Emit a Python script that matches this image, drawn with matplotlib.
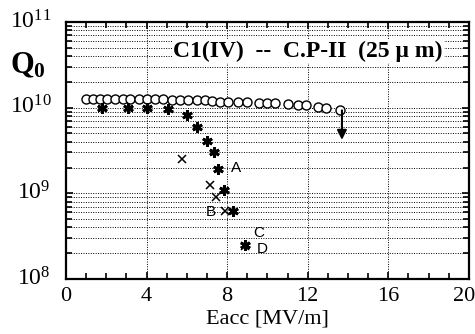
import matplotlib
matplotlib.use("Agg")
import matplotlib.pyplot as plt
import matplotlib.transforms as mtransforms
from matplotlib.ticker import LogLocator, FixedLocator, NullFormatter

plt.rcParams['font.family'] = ['Liberation Serif', 'DejaVu Serif']
plt.rcParams['mathtext.fontset'] = 'custom'
plt.rcParams['mathtext.rm'] = 'Liberation Serif'
plt.rcParams['mathtext.it'] = 'Liberation Serif:italic'
plt.rcParams['mathtext.bf'] = 'Liberation Serif:bold'

# open circles: best run
eacc_o = [1.0, 1.35, 1.7, 2.05, 2.45, 2.85, 3.2, 3.6, 4.0, 4.4, 4.8, 5.25, 5.65,
          6.05, 6.5, 6.9, 7.25, 7.65, 8.05, 8.55, 9.0, 9.6, 10.0, 10.4, 11.0,
          11.5, 11.9, 12.5, 12.9, 13.6]
q_o = [1.27e10, 1.27e10, 1.27e10, 1.26e10, 1.26e10, 1.26e10, 1.26e10, 1.26e10,
       1.25e10, 1.25e10, 1.25e10, 1.24e10, 1.24e10, 1.23e10, 1.23e10, 1.22e10,
       1.2e10, 1.18e10, 1.17e10, 1.16e10, 1.15e10, 1.14e10, 1.13e10, 1.12e10,
       1.1e10, 1.08e10, 1.06e10, 1.03e10, 1.0e10, 0.95e10]

# asterisks: degraded run
eacc_s = [1.8, 3.1, 4.0, 5.05, 6.0, 6.5, 7.0, 7.35, 7.55, 7.85, 8.3, 8.9]
q_s = [0.98e10, 1.0e10, 1.0e10, 0.97e10, 0.81e10, 0.59e10, 0.41e10, 0.30e10,
       0.19e10, 1.08e9, 6.2e8, 2.5e8]

# crosses
eacc_x = [5.75, 7.15, 7.45, 7.9, 8.9]
q_x = [2.5e9, 1.24e9, 9.0e8, 6.2e8, 2.4e8]

labels = ['A', 'B', 'C', 'D']
label_pos = [(8.2, 1.95e9), (6.95, 6.1e8), (9.3, 3.4e8), (9.45, 2.25e8)]

fig = plt.figure(figsize=(4.75, 3.34), dpi=100)
ax = fig.add_axes([0.139, 0.165, 0.848, 0.769])

ax.set_yscale('log')
ax.set_xlim(0, 20)
ax.set_ylim(1e8, 1e11)

ax.plot(eacc_o, q_o, 'o', mfc='white', mec='black', ms=6.5, mew=1.0, zorder=4)
ax.plot(eacc_s, q_s, ls='none', marker=(6, 2, 0), color='black', ms=7.5, mew=2.0, zorder=4)
ax.plot(eacc_x, q_x, 'x', color='black', ms=6, mew=1.1, zorder=4)

ax.annotate('', xy=(13.7, 0.42e10), xytext=(13.7, 0.93e10),
            arrowprops=dict(arrowstyle='-|>', color='black', lw=1.5,
                            mutation_scale=14, shrinkA=0, shrinkB=0), zorder=5)

for lab, (px, py) in zip(labels, label_pos):
    ax.text(px, py, lab, fontsize=11, family='Liberation Sans', va='center', ha='left')

ax.text(12.0, 4.6e10, 'C1(IV)  --  C.P-II  (25 μ m)', fontsize=17,
        fontweight='bold', ha='center', va='center',
        bbox=dict(facecolor='white', edgecolor='none', pad=1), zorder=6)

# ticks and dotted grid
ax.xaxis.set_major_locator(FixedLocator([0, 4, 8, 12, 16, 20]))
ax.xaxis.set_minor_locator(FixedLocator(range(0, 21)))
ax.yaxis.set_major_locator(LogLocator(base=10, numticks=10))
ax.yaxis.set_minor_locator(LogLocator(base=10, subs=range(2, 10), numticks=30))
ax.yaxis.set_minor_formatter(NullFormatter())
ax.set_yticklabels([])
ax.tick_params(which='both', direction='in', top=True, right=True, width=1.2)
ax.tick_params(which='major', length=5, labelsize=16, pad=6)
ax.tick_params(which='minor', length=4)
ax.grid(True, axis='x', which='major', ls=(0, (1, 1.5)), color='black', lw=0.7)
ax.grid(True, axis='y', which='both', ls=(0, (1, 1.5)), color='black', lw=0.7)
for sp in ax.spines.values():
    sp.set_linewidth(1.6)

# nudge the last x label so it stays inside the figure
last = ax.get_xticklabels()[-1]
last.set_transform(last.get_transform() +
                   mtransforms.ScaledTranslation(-5 / 100, 0, fig.dpi_scale_trans))

for e, x, y in zip([8, 9, 10, 11], [17, 17, 10, 10], [279, 193, 107, 22]):
    fig.text(x / 475, 1 - y / 334, '10$^{%d}$' % e, fontsize=17, ha='left', va='center')

fig.text(10 / 475, 1 - 66 / 334, '$\\mathbf{Q_0}$', fontsize=22, ha='left', va='center')
ax.set_xlabel('Eacc [MV/m]', fontsize=16, labelpad=2)

fig.savefig('out.png', dpi=100)
